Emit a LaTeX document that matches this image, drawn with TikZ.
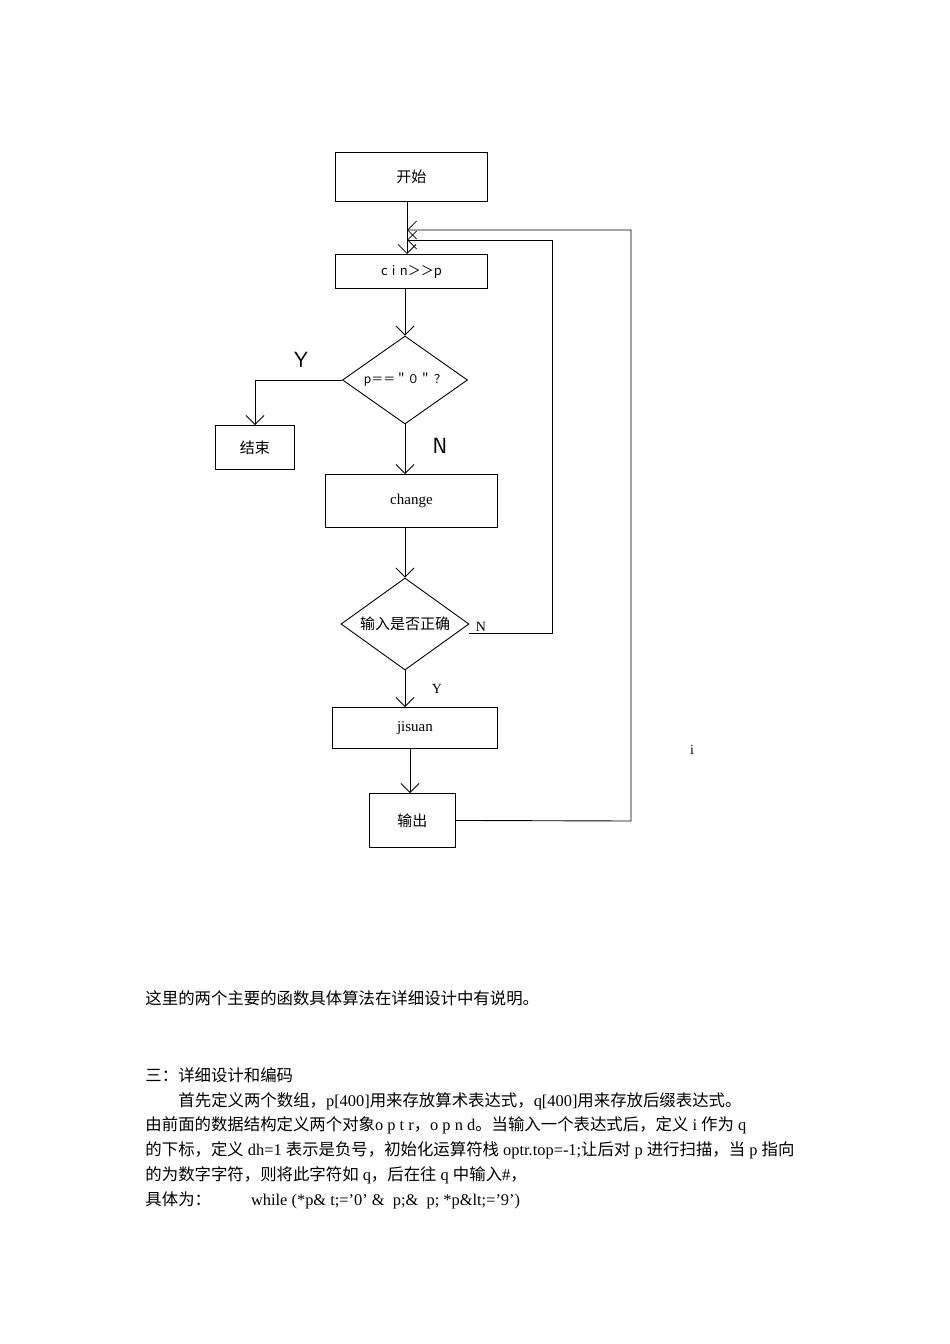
\documentclass[tikz,border=0pt]{standalone}
\usepackage{fontspec}
\setmainfont{Liberation Serif}
\newfontfamily\cjk{Noto Sans CJK SC}
\usetikzlibrary{arrows.meta,shapes.geometric}
\begin{document}
\begin{tikzpicture}[x=1pt,y=-1pt,line width=0.9pt,
  box/.style={draw,rectangle,inner sep=0pt,anchor=north west},
  arr/.style={-{Straight Barb[length=9pt,width=18pt,line width=0.8pt]}},
  lab/.style={font=\cjk\fontsize{15}{15}\selectfont},
  body/.style={anchor=base west,inner sep=0pt,font=\fontsize{16.4}{16}\selectfont}]
\useasboundingbox (0,0) rectangle (950,1344);
\node[box,minimum width=152pt,minimum height=49pt,lab] (start) at (335,152) {开始};
\node[box,minimum width=152pt,minimum height=34pt,font=\cjk\fontsize{13}{13}\selectfont] (cin) at (335,254) {c\,\,i\,\,n＞＞p};
\node[draw,diamond,aspect=1.42,minimum width=125pt,minimum height=88pt,inner sep=0pt,font=\cjk\fontsize{12}{12}\selectfont] (d1) at (405,380) {p＝＝＂０＂ ？};
\node[box,minimum width=79pt,minimum height=44pt,lab] (end) at (215,425) {结束};
\node[box,minimum width=172pt,minimum height=53pt,font=\fontsize{15}{15}\selectfont] (chg) at (325,474) {change};
\node[draw,diamond,aspect=1.39,minimum width=128pt,minimum height=92pt,inner sep=0pt,lab] (d2) at (405,624) {输入是否正确};
\node[box,minimum width=165pt,minimum height=41pt,font=\fontsize{15}{15}\selectfont] (js) at (332,707) {jisuan};
\node[box,minimum width=86pt,minimum height=54pt,lab] (out) at (369,793) {输出};
\coordinate (m1) at (407,240);
\coordinate (m2) at (407,230);
\coordinate (ey) at (255,380);
\coordinate (nr) at (552,633);
\coordinate (nt) at (552,240);
\coordinate (ot) at (631,230);
\coordinate (ob) at (631,821);
\draw[arr] (start.south -| 407,0) -- (cin.north -| 407,0);
\draw[arr] (cin.south -| d1.north) -- (d1.north);
\draw[arr] (d1.west) -- (ey) -- (end.north -| ey);
\draw[arr] (d1.south) -- (chg.north -| d1.south);
\draw[arr] (chg.south -| d2.north) -- (d2.north);
\draw[arr] (d2.south) -- (js.north -| d2.south);
\draw[arr] (js.south -| 410,0) -- (out.north -| 410,0);
\draw[arr] (d2.east |- nr) -- (nr) -- (nt) -- (m1);
\draw[arr] (out.east) -- (ob) -- (ot) -- (m2);
\node[font=\fontsize{22}{22}\selectfont\sffamily] (ly) at (301,360) {Y};
\node[font=\fontsize{22}{22}\selectfont\sffamily] (ln) at (440,446) {N};
\node[font=\fontsize{14}{14}\selectfont] (ln2) at (481,627) {N};
\node[font=\fontsize{14}{14}\selectfont] (ly2) at (437,689) {Y};
\node[font=\fontsize{14}{14}\selectfont] (li) at (692,750) {i};
\node[body] (t0) at (145,1004) {{\cjk 这里的两个主要的函数具体算法在详细设计中有说明。}};
\node[body] (t1) at (145,1081) {{\cjk 三：详细设计和编码}};
\node[body] (t2) at (178,1106) {{\cjk 首先定义两个数组，}p[400]{\cjk 用来存放算术表达式，}q[400]{\cjk 用来存放后缀表达式。}};
\node[body] (t3) at (145,1130) {{\cjk 由前面的数据结构定义两个对象}o\ p\ t\ r{\cjk ，}o\ p\ n\ d{\cjk 。当输入一个表达式后，定义} i {\cjk 作为} q};
\node[body] (t4) at (145,1155) {{\cjk 的下标，定义} dh=1 {\cjk 表示是负号，初始化运算符栈} optr.top=-1;{\cjk 让后对} p {\cjk 进行扫描，当} p {\cjk 指向}};
\node[body] (t5) at (145,1180) {{\cjk 的为数字字符，则将此字符如} q{\cjk ，后在往} q {\cjk 中输入}\#{\cjk ，}};
\node[body] (t6) at (145,1205) {{\cjk 具体为：}\hspace{40pt}while (*p\& t;='0' \&\ \ p;\&\ \ p; *p\&lt;='9')};
\end{tikzpicture}
\end{document}
